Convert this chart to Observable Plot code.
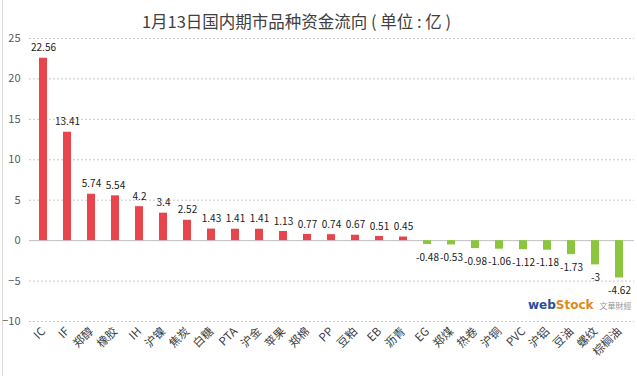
<!DOCTYPE html>
<html><head><meta charset="utf-8">
<script src="https://cdn.jsdelivr.net/npm/d3@7"></script>
<script src="https://cdn.jsdelivr.net/npm/@observablehq/plot@0.6"></script>
<style>
body{margin:0;background:#fff;font-family:"Noto Sans CJK SC","Noto Sans",sans-serif;}
#wrap{position:relative;width:637px;height:376px;overflow:hidden;}
#title{position:absolute;left:0;width:637px;top:9px;text-align:center;padding-right:44px;box-sizing:border-box;font-size:16.5px;color:#404040;white-space:pre;}
#wm{position:absolute;left:528px;top:298px;font-size:12px;font-weight:bold;font-family:"DejaVu Sans",sans-serif;color:#2a4f9a;white-space:nowrap;}
#wm span.s{color:#e08a1e;}
#wm span.c{color:#999;font-size:8px;font-weight:normal;margin-left:6px;font-family:"Noto Sans CJK SC";}
#frame{position:absolute;left:2px;top:0;width:1px;height:376px;background:#d9d9d9;}
</style></head>
<body><div id="wrap"><div id="frame"></div><div id="title">1月13日国内期市品种资金流向 ( 单位 : 亿 )</div><div id="wm">web<span class="s">Stock</span><span class="c">文華財經</span></div></div>
<script>
const categories = ["IC","IF","郑醇","橡胶","IH","沪镍","焦炭","白糖","PTA","沪金","苹果","郑棉","PP","豆粕","EB","沥青","EG","郑煤","热卷","沪铜","PVC","沪铝","豆油","螺纹","棕榈油"];
const values = [22.56,13.41,5.74,5.54,4.2,3.4,2.52,1.43,1.41,1.41,1.13,0.77,0.74,0.67,0.51,0.45,-0.48,-0.53,-0.98,-1.06,-1.12,-1.18,-1.73,-3,-4.62];
const yTicks = [-10,-5,0,5,10,15,20,25];
const data = categories.map((c,i)=>({c, v: values[i]}));
const chart = Plot.plot({
  width: 637, height: 376,
  marginLeft: 29, marginRight: 3, marginTop: 38, marginBottom: 55,
  style: {fontFamily: '"Noto Sans CJK SC","Noto Sans",sans-serif', background: "transparent"},
  x: {domain: categories, paddingInner: 0.66, paddingOuter: 0.33, label: null},
  y: {domain: [-10, 25], label: null},
  marks: [
    Plot.ruleY(yTicks.filter(d=>d!==0), {stroke: "#c8c8c8", strokeDasharray: "2,2", strokeWidth: 1}),
    Plot.ruleY([0], {stroke: "#bfbfbf", strokeWidth: 1}),
    Plot.barY(data, {x: "c", y: "v", fill: d => d.v >= 0 ? "#e8444b" : "#8cc63f"}),
    Plot.text(data.filter(d=>d.v>=0), {x: "c", y: "v", text: d => String(d.v), dy: -10, fontSize: 10, fill: "#1a1a1a"}),
    Plot.text(data.filter(d=>d.v<0), {x: "c", y: "v", text: d => String(d.v), dy: 13, fontSize: 10, fill: "#1a1a1a"}),
    Plot.axisY({ticks: yTicks, tickSize: 0, tickPadding: 9, fontSize: 11, color: "#595959", label: null}),
    Plot.axisX({tickSize: 0, tickRotate: -45, tickPadding: 8, fontSize: 11.5, color: "#404040", label: null})
  ]
});
chart.style.position = "absolute";
chart.style.left = "0"; chart.style.top = "0";
document.getElementById("wrap").insertBefore(chart, document.getElementById("title"));
</script>
</body></html>
